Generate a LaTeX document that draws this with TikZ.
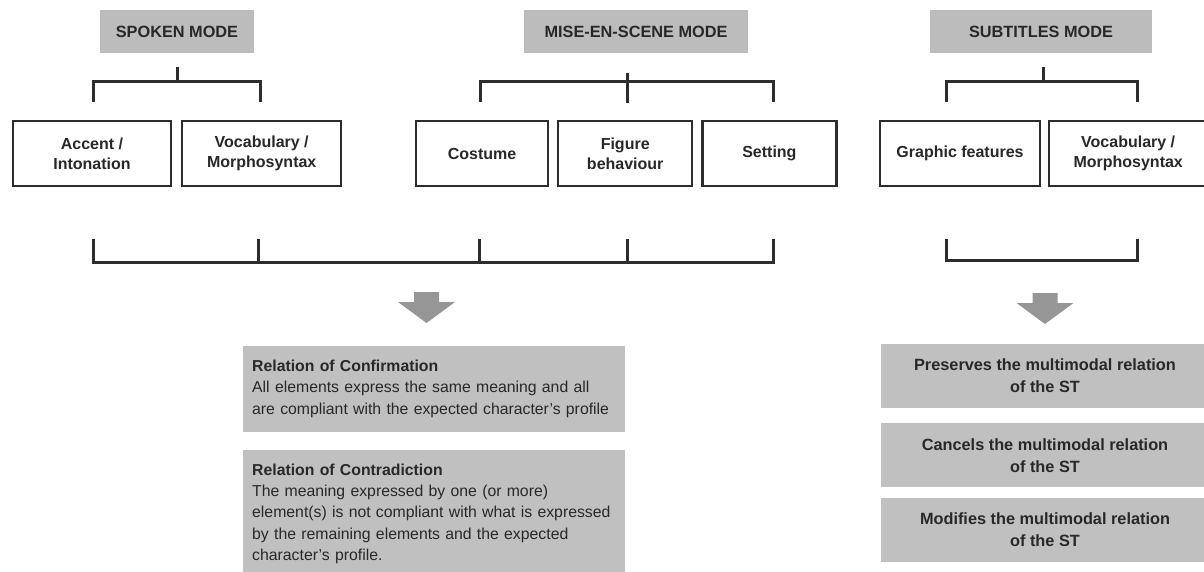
\documentclass[tikz,border=0pt]{standalone}
\usepackage{fontspec}
\setmainfont{Liberation Sans}
\usetikzlibrary{positioning,calc}

\definecolor{headgray}{RGB}{188,188,188}
\definecolor{relgray}{RGB}{192,192,192}
\definecolor{arrowgray}{RGB}{150,150,150}
\definecolor{linegray}{RGB}{45,45,45}
\definecolor{txtgray}{RGB}{40,40,40}

\begin{document}
\begin{tikzpicture}[x=1pt,y=-1pt,
    modehead/.style={fill=headgray, minimum height=43pt, inner sep=0pt, text=txtgray, font=\fontsize{16.3}{18}\selectfont\bfseries},
    featbox/.style={draw=linegray, line width=2.2pt, fill=white, minimum height=65pt, inner sep=0pt, align=center, text=txtgray, font=\fontsize{16}{20}\selectfont\bfseries},
    brk/.style={draw=linegray, line width=3pt},
    relbox/.style={fill=relgray, text width=364pt, inner xsep=9pt, inner ysep=14pt, align=left, anchor=north west, text=txtgray, font=\fontsize{15.8}{21.3}\selectfont},
    stbox/.style={fill=relgray, minimum width=328pt, minimum height=64pt, inner sep=0pt, align=center, text=txtgray, font=\fontsize{16.3}{22}\selectfont\bfseries}]
    \useasboundingbox (0,0) rectangle (1204,572);

    % Mode headers
    \node[modehead, minimum width=154pt] (spoken) at (177,31.5) {SPOKEN MODE};
    \node[modehead, minimum width=224pt] (mise) at (636,31.5) {MISE-EN-SCENE MODE};
    \node[modehead, minimum width=222pt] (subt) at (1041,31.5) {SUBTITLES MODE};

    % Feature boxes
    \node[featbox, minimum width=158pt] (accent) at (92,153.5) {Accent /\\Intonation};
    \node[featbox, minimum width=159pt, right=9pt of accent] (vocab) {Vocabulary /\\Morphosyntax};
    \node[featbox, minimum width=132pt] (costume) at (482,153.5) {Costume};
    \node[featbox, minimum width=134pt, right=8pt of costume] (figure) {Figure\\behaviour};
    \node[featbox, minimum width=134pt, right=8pt of figure] (setting) {Setting};
    \node[featbox, minimum width=160pt] (graphic) at (960,153.5) {Graphic features};
    \node[featbox, minimum width=158pt, right=7pt of graphic] (vocabst) {Vocabulary /\\Morphosyntax};

    % Brackets above the boxes
    \draw[brk] ($(spoken.south)+(0,14)$) -- ++(0,14);
    \draw[brk] ($(accent.north)+(1,-18)$) -- ++(0,-20) -| ($(vocab.north)+(-1,-18)$);
    \draw[brk] ($(costume.north)+(-2,-18)$) -- ++(0,-20) -| ($(setting.north)+(4,-18)$);
    \draw[brk] ($(figure.north)+(2,-47)$) -- ++(0,30);
    \draw[brk] ($(subt.south)+(2,14)$) -- ++(0,14);
    \draw[brk] ($(graphic.north)+(-14,-18)$) -- ++(0,-20) -| ($(vocabst.north)+(9,-18)$);

    % Brackets below the boxes
    \draw[brk] ($(accent.south)+(1,52)$) -- ++(0,23) -| ($(setting.south)+(4,52)$);
    \foreach \b/\dx in {vocab/-3,costume/-3,figure/2}
        \draw[brk] ($(\b.south)+(\dx,52)$) -- ++(0,23);
    \draw[brk] ($(graphic.south)+(-14,52)$) -- ++(0,21) -| ($(vocabst.south)+(9,52)$);

    % Down arrows
    \coordinate (arrl) at (426.5,292);
    \coordinate (arrr) at (1045,293);
    \foreach \a in {arrl,arrr}
        \fill[arrowgray] (\a) ++(-12.5,0) -- ++(25,0) -- ++(0,10) -- ++(16,0) -- ++(-28.5,21) -- ++(-28.5,-21) -- ++(16,0) -- cycle;

    % Relations
    \node[relbox, minimum height=84pt] (confirm) at (243,346) {\textbf{Relation of Confirmation}\\All elements express the same meaning and all\\are compliant with the expected character's profile};
    \node[relbox, below=18pt of confirm] (contra) {\textbf{Relation of Contradiction}\\The meaning expressed by one (or more)\\element(s) is not compliant with what is expressed\\by the remaining elements and the expected\\character's profile.};

    \node[stbox] (preserve) at (1045,376) {Preserves the multimodal relation\\of the ST};
    \node[stbox, below=15pt of preserve] (cancel) {Cancels the multimodal relation\\of the ST};
    \node[stbox, below=10pt of cancel] (modify) {Modifies the multimodal relation\\of the ST};
\end{tikzpicture}
\end{document}
